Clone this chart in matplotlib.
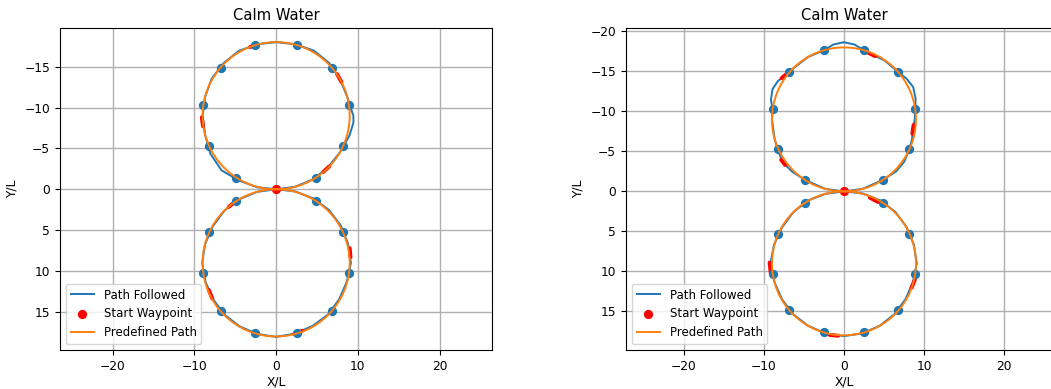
import matplotlib
matplotlib.use("Agg")
import matplotlib.pyplot as plt
from matplotlib.patches import Circle
from matplotlib.lines import Line2D

plt.rcParams["font.size"] = 8.8

# predefined figure-eight: two loops of radius 9 touching at the origin
loop_centres_y = [-9.0, 9.0]
loop_radius = 9.0

# start waypoint and the other waypoints (11 per loop, origin shared)
start_x = [0.0]
start_y = [0.0]
wp_x = [-4.87, -8.19, -8.91, -6.81, -2.54, 2.54, 6.81, 8.91, 8.19, 4.87,
        -4.87, -8.19, -8.91, -6.81, -2.54, 2.54, 6.81, 8.91, 8.19, 4.87]
wp_y = [-1.43, -5.27, -10.28, -14.89, -17.63, -17.63, -14.89, -10.28, -5.27, -1.43,
        1.43, 5.27, 10.28, 14.89, 17.63, 17.63, 14.89, 10.28, 5.27, 1.43]

# run 1: path followed (upper loop then lower loop)
path1_x = [0.0, -2.34, -4.58, -6.68, -8.05, -8.69, -9.0, -8.69, -7.88, -6.43,
           -4.58, -2.34, 0.0, 2.34, 4.6, 6.47, 7.79, 8.69, 9.01, 9.45,
           9.46, 8.98, 8.27, 7.79, 6.33, 4.5, 2.33, 0.0,
           2.34, 4.55, 6.47, 7.92, 8.79, 9.15, 8.64, 7.71, 6.33, 4.45,
           2.32, 0.0, -2.33, -4.48, -6.33, -7.71, -8.64, -9.05, -8.69, -7.75,
           -6.36, -4.5, -2.33, 0.0]
path1_y = [0.0, -0.26, -1.08, -2.32, -4.35, -6.67, -9.0, -11.33, -13.55, -15.43,
           -16.92, -17.74, -18.0, -17.74, -16.97, -15.47, -13.5, -11.33, -10.27, -9.0,
           -8.17, -6.59, -5.32, -4.5, -2.67, -1.21, -0.31, 0.0,
           0.26, 1.12, 2.53, 4.43, 6.64, 9.0, 11.32, 13.45, 15.33, 16.71,
           17.64, 18.05, 17.69, 16.75, 15.33, 13.45, 11.32, 9.0, 6.67, 4.53,
           2.64, 1.21, 0.31, 0.0]
# short stretches of the path drawn in red
red1_x = [[-3.2, -2.3], [7.45, 8.0], [-9.1, -8.95], [5.75, 6.5],
          [-5.8, -4.95], [9.0, 9.1], [-8.25, -7.8], [2.2, 3.2]]
red1_y = [[-17.4, -17.7], [-14.1, -13.1], [-8.8, -7.7], [-2.1, -2.8],
          [2.15, 1.45], [7.2, 8.3], [12.3, 13.4], [17.7, 17.3]]

# run 2: path followed
path2_x = [0.0, -2.33, -4.86, -6.51, -7.66, -8.25, -8.69, -9.0, -8.91, -9.13,
           -8.93, -8.27, -7.35, -6.36, -4.5, -2.48, -1.32, 0.0, 1.32, 2.48,
           3.46, 5.13, 6.79, 7.83, 8.66, 8.96, 8.91, 8.85, 8.62, 8.51,
           8.16, 7.54, 6.51, 4.9, 2.33, 0.0,
           2.34, 4.55, 6.43, 7.84, 8.74, 9.1, 8.64, 7.71, 6.33, 4.5,
           2.34, 0.0, -2.34, -4.5, -6.36, -7.75, -8.69, -9.2, -8.74, -7.75,
           -6.36, -4.53, -2.33, 0.0]
path2_y = [0.0, -0.31, -1.43, -2.49, -3.64, -5.15, -6.67, -9.0, -10.25, -11.45,
           -12.79, -13.78, -14.54, -15.36, -16.79, -17.65, -18.36, -18.65, -18.36, -17.65,
           -17.15, -16.33, -14.9, -14.09, -13.04, -11.57, -10.25, -9.0, -7.79, -6.56,
           -5.2, -3.72, -2.49, -1.45, -0.31, 0.0,
           0.26, 1.12, 2.57, 4.48, 6.66, 9.0, 11.32, 13.45, 15.33, 16.79,
           17.74, 18.1, 17.74, 16.79, 15.36, 13.48, 11.33, 9.0, 6.66, 4.53,
           2.64, 1.16, 0.31, 0.0]
red2_x = [[3.0, 3.9], [8.7, 8.55], [-7.85, -7.35], [-7.8, -7.15],
          [3.25, 4.29], [8.875, 8.46], [-9.3, -9.15], [-1.8, -0.7]]
red2_y = [[-17.35, -16.9], [-8.3, -7.2], [-3.95, -3.3], [-14.15, -14.7],
          [0.8, 1.34], [11.0, 12.05], [8.9, 10.25], [17.95, 18.05]]


def draw_run(ax, path_x, path_y, red_x, red_y, xlim, ylim):
    line, = ax.plot(path_x, path_y, color="tab:blue", lw=1.4, zorder=2)
    for sx, sy in zip(red_x, red_y):
        ax.plot(sx, sy, color="red", lw=2.8, solid_capstyle="round", zorder=3)
    ax.scatter(wp_x, wp_y, s=32, color="tab:blue", zorder=3)
    start = ax.scatter(start_x, start_y, s=32, color="red", zorder=4)
    for cy in loop_centres_y:
        ax.add_patch(Circle((0.0, cy), loop_radius, fill=False,
                            edgecolor="tab:orange", lw=1.4, zorder=5))
    ref = Line2D([], [], color="tab:orange", lw=1.4)
    ax.legend([line, start, ref], ["Path Followed", "Start Waypoint", "Predefined Path"],
              loc="lower left", fontsize=8.5)
    ax.set_xlim(*xlim)
    ax.set_ylim(*ylim)
    ax.set_xticks([-20, -10, 0, 10, 20])
    ax.grid(True, lw=1.0)
    ax.set_title("Calm Water", fontsize=10.6)
    ax.set_xlabel("X/L", labelpad=2)
    ax.set_ylabel("Y/L")


fig = plt.figure(figsize=(10.51, 3.89), dpi=100)
ax1 = fig.add_axes([0.0571, 0.1003, 0.4113, 0.8278])
ax2 = fig.add_axes([0.5956, 0.1003, 0.4148, 0.8278])

draw_run(ax1, path1_x, path1_y, red1_x, red1_y, (-26.45, 26.45), (19.65, -19.73))
draw_run(ax2, path2_x, path2_y, red2_x, red2_y, (-27.25, 27.25), (19.83, -20.43))

fig.savefig("out.png", dpi=100)
